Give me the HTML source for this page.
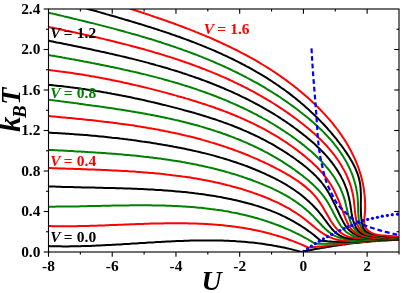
<!DOCTYPE html>
<html><head><meta charset="utf-8"><title>Phase diagram</title>
<style>
html,body{margin:0;padding:0;background:#fff;}
body{width:403px;height:293px;overflow:hidden;}
svg{display:block;will-change:transform;font-family:"Liberation Serif",serif;font-weight:bold;}
.c path{fill:none;stroke-width:2.0;stroke-linejoin:round;stroke-linecap:butt;}
.ax line{stroke:#000;stroke-width:1.1;}
.tk text{font-size:15.4px;fill:#000;}
.vl{font-size:15.5px;word-spacing:-0.7px;}
.vl tspan.i{font-style:italic;}
.big{font-size:28px;font-style:italic;}
</style></head><body>
<svg width="403" height="293" viewBox="0 0 403 293">
<defs><clipPath id="cp"><rect x="48.50" y="9.00" width="350.50" height="243.00"/></clipPath></defs>
<rect x="0" y="0" width="403" height="293" fill="#fff"/>
<g class="c" clip-path="url(#cp)">
<path d="M48.7 246.1 L50.6 246.2 L52.6 246.2 L54.6 246.3 L56.6 246.3 L58.6 246.3 L60.6 246.3 L62.6 246.4 L64.6 246.4 L66.6 246.4 L68.6 246.4 L70.5 246.3 L72.5 246.3 L74.5 246.3 L76.5 246.3 L78.5 246.2 L80.5 246.2 L82.5 246.1 L84.5 246.1 L86.5 246.0 L88.5 245.9 L90.5 245.9 L92.5 245.8 L94.5 245.7 L96.5 245.6 L98.5 245.5 L100.5 245.4 L102.5 245.3 L104.5 245.2 L106.5 245.1 L108.5 245.0 L110.5 244.9 L112.5 244.8 L114.5 244.7 L116.5 244.6 L118.5 244.5 L120.5 244.4 L122.5 244.2 L124.5 244.1 L126.5 244.0 L128.5 243.9 L130.5 243.7 L132.5 243.6 L134.5 243.5 L136.5 243.4 L138.5 243.2 L140.5 243.1 L142.5 243.0 L144.5 242.9 L146.5 242.7 L148.5 242.6 L150.5 242.5 L152.6 242.4 L154.6 242.3 L156.6 242.1 L158.6 242.0 L160.6 241.9 L162.6 241.8 L164.6 241.7 L166.6 241.6 L168.6 241.5 L170.6 241.4 L172.6 241.3 L174.6 241.2 L176.6 241.1 L178.6 241.0 L180.6 241.0 L182.6 240.9 L184.6 240.8 L186.6 240.8 L188.6 240.7 L190.6 240.6 L192.6 240.6 L194.6 240.5 L196.6 240.5 L198.6 240.5 L200.6 240.5 L202.6 240.4 L204.6 240.4 L206.5 240.4 L208.5 240.4 L210.5 240.4 L212.5 240.4 L214.5 240.5 L216.5 240.5 L218.5 240.5 L220.5 240.6 L222.5 240.6 L224.5 240.7 L226.5 240.8 L228.5 240.8 L230.5 240.9 L232.4 241.0 L234.4 241.1 L236.4 241.3 L238.4 241.4 L240.4 241.5 L242.4 241.7 L244.4 241.8 L246.3 242.0 L248.3 242.2 L250.3 242.4 L252.3 242.6 L254.3 242.8 L256.2 243.0 L258.2 243.3 L260.2 243.5 L262.2 243.8 L264.1 244.1 L266.1 244.4 L268.1 244.7 L270.1 245.0 L272.0 245.3 L274.0 245.7 L276.0 246.0 L277.9 246.4 L279.9 246.8 L281.9 247.2 L283.8 247.6 L285.8 248.0 L287.8 248.4 L289.7 248.9 L291.7 249.4 L293.7 249.9 L295.6 250.4 L297.6 250.9 L299.5 251.4 L301.5 252.0 L303.4 252.6 L303.6 252.6 M303.5 251.4 L305.5 251.0 L307.4 250.7 L309.4 250.3 L311.4 249.9 L313.3 249.5 L315.3 249.1 L317.3 248.8 L319.2 248.4 L321.2 248.1 L323.2 247.7 L325.1 247.4 L327.1 247.1 L329.1 246.7 L331.0 246.4 L333.0 246.1 L335.0 245.8 L337.0 245.5 L339.0 245.2 L340.9 244.9 L342.9 244.6 L344.9 244.4 L346.9 244.1 L348.9 243.8 L350.8 243.6 L352.8 243.3 L354.8 243.1 L356.8 242.9 L358.8 242.7 L360.8 242.4 L362.8 242.2 L364.8 242.0 L366.8 241.9 L368.7 241.7 L370.7 241.5 L372.7 241.3 L374.7 241.2 L376.7 241.0 L378.7 240.9 L380.7 240.7 L382.7 240.6 L384.7 240.5 L386.7 240.4 L388.7 240.3 L390.7 240.2 L392.7 240.1 L394.7 240.0 L396.7 240.0 L398.7 239.9 L400.7 239.9 L402.7 239.8 L404.7 239.8 L406.7 239.8 L408.7 239.8 L410.7 239.8 L412.0 239.8" stroke="#000000"/>
<path d="M48.7 226.1 L50.7 226.1 L52.7 226.2 L54.6 226.2 L56.6 226.2 L58.6 226.2 L60.6 226.3 L62.6 226.3 L64.5 226.3 L66.5 226.3 L68.5 226.3 L70.5 226.2 L72.5 226.2 L74.5 226.2 L76.5 226.2 L78.5 226.1 L80.4 226.1 L82.4 226.0 L84.4 226.0 L86.4 226.0 L88.4 225.9 L90.4 225.8 L92.4 225.8 L94.4 225.7 L96.4 225.7 L98.4 225.6 L100.4 225.5 L102.4 225.4 L104.4 225.4 L106.5 225.3 L108.5 225.2 L110.5 225.1 L112.5 225.1 L114.5 225.0 L116.5 224.9 L118.5 224.8 L120.5 224.7 L122.5 224.7 L124.5 224.6 L126.5 224.5 L128.5 224.4 L130.6 224.3 L132.6 224.3 L134.6 224.2 L136.6 224.1 L138.6 224.0 L140.6 224.0 L142.6 223.9 L144.6 223.8 L146.6 223.8 L148.6 223.7 L150.7 223.6 L152.7 223.6 L154.7 223.5 L156.7 223.5 L158.7 223.4 L160.7 223.4 L162.7 223.4 L164.7 223.3 L166.7 223.3 L168.7 223.3 L170.7 223.3 L172.7 223.2 L174.7 223.2 L176.8 223.2 L178.8 223.2 L180.8 223.3 L182.8 223.3 L184.8 223.3 L186.8 223.3 L188.8 223.4 L190.8 223.4 L192.8 223.5 L194.8 223.5 L196.7 223.6 L198.7 223.7 L200.7 223.7 L202.7 223.8 L204.7 223.9 L206.7 224.0 L208.7 224.2 L210.7 224.3 L212.7 224.4 L214.6 224.6 L216.6 224.7 L218.6 224.9 L220.6 225.1 L222.6 225.3 L224.5 225.5 L226.5 225.7 L228.5 225.9 L230.5 226.1 L232.4 226.4 L234.4 226.6 L236.4 226.9 L238.3 227.2 L240.3 227.5 L242.2 227.8 L244.2 228.1 L246.2 228.4 L248.1 228.8 L250.1 229.1 L252.0 229.5 L254.0 229.9 L255.9 230.3 L257.8 230.7 L259.8 231.1 L261.7 231.6 L263.7 232.0 L265.6 232.5 L267.5 233.0 L269.5 233.5 L271.4 234.0 L273.3 234.6 L275.2 235.1 L277.1 235.7 L279.1 236.3 L281.0 236.9 L282.9 237.5 L284.8 238.1 L286.7 238.8 L288.6 239.5 L290.5 240.2 L292.4 240.9 L294.3 241.6 L296.2 242.3 L298.0 243.1 L299.9 243.9 L301.8 244.7 L303.7 245.5 L305.6 246.3 L307.4 247.2 L309.1 248.0 M309.0 247.6 L311.0 247.4 L313.0 247.2 L315.0 247.0 L317.0 246.8 L318.9 246.6 L320.9 246.4 L322.9 246.2 L324.9 246.0 L326.9 245.7 L328.9 245.5 L330.9 245.3 L332.9 245.1 L334.9 244.8 L336.8 244.6 L338.8 244.4 L340.8 244.2 L342.8 243.9 L344.8 243.7 L346.8 243.5 L348.8 243.3 L350.8 243.1 L352.7 242.9 L354.7 242.6 L356.7 242.4 L358.7 242.2 L360.7 242.0 L362.7 241.9 L364.7 241.7 L366.7 241.5 L368.7 241.3 L370.7 241.1 L372.7 241.0 L374.6 240.8 L376.6 240.7 L378.6 240.5 L380.6 240.4 L382.6 240.3 L384.6 240.2 L386.6 240.1 L388.6 240.0 L390.6 239.9 L392.6 239.8 L394.6 239.8 L396.6 239.7 L398.6 239.7 L400.6 239.7 L402.6 239.7 L404.6 239.7 L406.6 239.7 L408.6 239.7 L410.6 239.8 L412.0 239.8" stroke="#ff0000"/>
<path d="M48.8 206.7 L50.7 206.7 L52.7 206.7 L54.7 206.7 L56.6 206.6 L58.6 206.6 L60.6 206.6 L62.5 206.6 L64.5 206.6 L66.5 206.6 L68.5 206.5 L70.5 206.5 L72.4 206.5 L74.4 206.4 L76.4 206.4 L78.4 206.4 L80.4 206.3 L82.4 206.3 L84.4 206.2 L86.4 206.2 L88.4 206.1 L90.4 206.1 L92.4 206.1 L94.4 206.0 L96.4 206.0 L98.4 205.9 L100.4 205.9 L102.4 205.8 L104.4 205.8 L106.4 205.7 L108.4 205.7 L110.4 205.7 L112.4 205.6 L114.4 205.6 L116.5 205.5 L118.5 205.5 L120.5 205.5 L122.5 205.4 L124.5 205.4 L126.5 205.4 L128.5 205.4 L130.5 205.3 L132.6 205.3 L134.6 205.3 L136.6 205.3 L138.6 205.3 L140.6 205.3 L142.6 205.3 L144.6 205.3 L146.7 205.3 L148.7 205.3 L150.7 205.3 L152.7 205.4 L154.7 205.4 L156.7 205.4 L158.7 205.5 L160.7 205.5 L162.7 205.6 L164.8 205.6 L166.8 205.7 L168.8 205.7 L170.8 205.8 L172.8 205.9 L174.8 206.0 L176.8 206.1 L178.8 206.2 L180.8 206.3 L182.8 206.4 L184.8 206.5 L186.8 206.7 L188.8 206.8 L190.8 207.0 L192.8 207.1 L194.7 207.3 L196.7 207.5 L198.7 207.7 L200.7 207.8 L202.7 208.0 L204.7 208.3 L206.6 208.5 L208.6 208.7 L210.6 209.0 L212.6 209.2 L214.5 209.5 L216.5 209.8 L218.5 210.0 L220.4 210.3 L222.4 210.6 L224.4 211.0 L226.3 211.3 L228.3 211.6 L230.2 212.0 L232.2 212.4 L234.1 212.7 L236.1 213.1 L238.0 213.5 L239.9 214.0 L241.9 214.4 L243.8 214.8 L245.7 215.3 L247.7 215.8 L249.6 216.2 L251.5 216.7 L253.4 217.2 L255.3 217.8 L257.2 218.3 L259.1 218.9 L261.0 219.4 L262.9 220.0 L264.8 220.6 L266.7 221.2 L268.6 221.9 L270.5 222.5 L272.4 223.2 L274.3 223.9 L276.1 224.6 L278.0 225.3 L279.9 226.0 L281.7 226.7 L283.6 227.5 L285.4 228.3 L287.3 229.1 L289.1 229.9 L290.9 230.7 L292.8 231.6 L294.6 232.4 L296.4 233.3 L298.3 234.2 L300.1 235.2 L301.9 236.1 L303.7 237.1 L305.5 238.0 L307.3 239.0 L309.1 240.1 L310.9 241.1 L312.6 242.2 L314.4 243.2 L315.2 243.7 M315.0 243.7 L317.0 243.7 L319.0 243.7 L321.0 243.7 L323.0 243.7 L325.0 243.7 L327.0 243.7 L329.0 243.6 L331.0 243.5 L333.0 243.5 L335.0 243.4 L337.0 243.3 L339.0 243.2 L341.0 243.1 L343.0 242.9 L345.0 242.8 L347.0 242.6 L348.9 242.5 L350.9 242.4 L352.9 242.2 L354.9 242.0 L356.9 241.9 L358.9 241.7 L360.9 241.6 L362.9 241.4 L364.9 241.2 L366.9 241.1 L368.9 240.9 L370.9 240.8 L372.9 240.6 L374.9 240.5 L376.9 240.3 L378.9 240.2 L380.9 240.1 L382.8 240.0 L384.8 239.9 L386.8 239.8 L388.8 239.7 L390.8 239.6 L392.8 239.6 L394.8 239.5 L396.8 239.5 L398.8 239.5 L400.8 239.5 L402.8 239.5 L404.8 239.5 L406.9 239.6 L408.9 239.7 L410.9 239.8 L412.0 239.8" stroke="#008000"/>
<path d="M49.0 186.4 L50.9 186.5 L52.8 186.5 L54.8 186.6 L56.7 186.7 L58.7 186.7 L60.6 186.8 L62.5 186.9 L64.5 186.9 L66.4 187.0 L68.4 187.0 L70.4 187.1 L72.3 187.1 L74.3 187.2 L76.3 187.2 L78.2 187.3 L80.2 187.3 L82.2 187.4 L84.2 187.4 L86.2 187.5 L88.2 187.5 L90.1 187.5 L92.1 187.6 L94.1 187.6 L96.1 187.7 L98.1 187.7 L100.1 187.8 L102.1 187.8 L104.1 187.9 L106.1 187.9 L108.1 188.0 L110.2 188.0 L112.2 188.1 L114.2 188.1 L116.2 188.2 L118.2 188.2 L120.2 188.3 L122.2 188.3 L124.3 188.4 L126.3 188.5 L128.3 188.5 L130.3 188.6 L132.3 188.7 L134.4 188.8 L136.4 188.8 L138.4 188.9 L140.4 189.0 L142.5 189.1 L144.5 189.2 L146.5 189.3 L148.5 189.4 L150.5 189.5 L152.6 189.6 L154.6 189.7 L156.6 189.9 L158.6 190.0 L160.7 190.1 L162.7 190.2 L164.7 190.4 L166.7 190.5 L168.7 190.7 L170.7 190.8 L172.8 191.0 L174.8 191.2 L176.8 191.4 L178.8 191.5 L180.8 191.7 L182.8 191.9 L184.8 192.1 L186.8 192.3 L188.8 192.6 L190.8 192.8 L192.8 193.0 L194.8 193.3 L196.8 193.5 L198.8 193.8 L200.8 194.0 L202.8 194.3 L204.8 194.6 L206.8 194.9 L208.7 195.2 L210.7 195.5 L212.7 195.8 L214.7 196.1 L216.6 196.4 L218.6 196.8 L220.6 197.1 L222.5 197.5 L224.5 197.9 L226.4 198.3 L228.4 198.7 L230.3 199.1 L232.3 199.5 L234.2 199.9 L236.1 200.3 L238.1 200.8 L240.0 201.2 L241.9 201.7 L243.8 202.2 L245.8 202.7 L247.7 203.2 L249.6 203.7 L251.5 204.2 L253.4 204.8 L255.2 205.4 L257.1 205.9 L259.0 206.5 L260.9 207.1 L262.7 207.8 L264.6 208.4 L266.4 209.1 L268.3 209.8 L270.1 210.4 L272.0 211.2 L273.8 211.9 L275.6 212.6 L277.4 213.4 L279.2 214.2 L281.0 215.0 L282.8 215.9 L284.6 216.7 L286.4 217.6 L288.1 218.5 L289.9 219.4 L291.6 220.3 L293.4 221.3 L295.1 222.3 L296.8 223.3 L298.5 224.3 L300.2 225.4 L301.9 226.5 L303.6 227.6 L305.3 228.7 L307.0 229.9 L308.6 231.1 L310.3 232.3 L311.9 233.5 L313.6 234.8 L315.2 236.1 L316.8 237.4 L318.4 238.8 L320.0 240.2 L320.0 240.3 M319.5 240.4 L321.5 240.7 L323.5 240.9 L325.5 241.1 L327.5 241.3 L329.5 241.4 L331.5 241.6 L333.5 241.7 L335.5 241.7 L337.5 241.8 L339.4 241.8 L341.4 241.8 L343.4 241.8 L345.4 241.8 L347.4 241.7 L349.4 241.7 L351.4 241.6 L353.4 241.5 L355.4 241.4 L357.4 241.3 L359.4 241.2 L361.4 241.1 L363.4 240.9 L365.4 240.8 L367.4 240.7 L369.4 240.6 L371.4 240.4 L373.4 240.3 L375.4 240.2 L377.4 240.0 L379.4 239.9 L381.4 239.8 L383.4 239.7 L385.4 239.6 L387.4 239.5 L389.4 239.4 L391.4 239.4 L393.4 239.3 L395.4 239.3 L397.4 239.3 L399.4 239.3 L401.4 239.3 L403.4 239.4 L405.4 239.4 L407.4 239.5 L409.4 239.6 L411.4 239.8 L412.0 239.8" stroke="#000000"/>
<path d="M49.0 168.1 L50.9 168.1 L52.8 168.2 L54.8 168.3 L56.7 168.3 L58.7 168.4 L60.6 168.5 L62.6 168.5 L64.6 168.6 L66.5 168.7 L68.5 168.7 L70.5 168.8 L72.4 168.8 L74.4 168.9 L76.4 169.0 L78.4 169.0 L80.3 169.1 L82.3 169.2 L84.3 169.2 L86.3 169.3 L88.3 169.4 L90.3 169.5 L92.3 169.5 L94.3 169.6 L96.3 169.7 L98.3 169.8 L100.3 169.8 L102.3 169.9 L104.3 170.0 L106.3 170.1 L108.3 170.2 L110.3 170.3 L112.3 170.4 L114.3 170.5 L116.3 170.6 L118.3 170.7 L120.3 170.8 L122.3 170.9 L124.4 171.0 L126.4 171.1 L128.4 171.2 L130.4 171.4 L132.4 171.5 L134.4 171.6 L136.4 171.8 L138.5 171.9 L140.5 172.1 L142.5 172.2 L144.5 172.4 L146.5 172.5 L148.5 172.7 L150.5 172.9 L152.5 173.0 L154.5 173.2 L156.6 173.4 L158.6 173.6 L160.6 173.8 L162.6 174.0 L164.6 174.2 L166.6 174.5 L168.6 174.7 L170.6 174.9 L172.6 175.2 L174.6 175.4 L176.6 175.7 L178.6 175.9 L180.6 176.2 L182.6 176.5 L184.6 176.7 L186.5 177.0 L188.5 177.3 L190.5 177.6 L192.5 178.0 L194.5 178.3 L196.4 178.6 L198.4 178.9 L200.4 179.3 L202.4 179.7 L204.3 180.0 L206.3 180.4 L208.2 180.8 L210.2 181.2 L212.1 181.6 L214.1 182.0 L216.0 182.4 L218.0 182.8 L219.9 183.3 L221.9 183.7 L223.8 184.2 L225.7 184.7 L227.6 185.2 L229.6 185.6 L231.5 186.2 L233.4 186.7 L235.3 187.2 L237.2 187.7 L239.1 188.3 L241.0 188.8 L242.9 189.4 L244.8 190.0 L246.6 190.6 L248.5 191.2 L250.4 191.8 L252.3 192.4 L254.1 193.1 L256.0 193.7 L257.8 194.4 L259.7 195.1 L261.5 195.8 L263.4 196.5 L265.2 197.2 L267.0 198.0 L268.8 198.7 L270.6 199.5 L272.4 200.3 L274.2 201.1 L276.0 201.9 L277.8 202.7 L279.6 203.6 L281.4 204.5 L283.1 205.4 L284.9 206.3 L286.6 207.3 L288.4 208.2 L290.1 209.2 L291.8 210.3 L293.5 211.3 L295.2 212.4 L296.9 213.5 L298.6 214.7 L300.3 215.8 L301.9 217.0 L303.6 218.3 L305.2 219.5 L306.8 220.8 L308.5 222.2 L310.1 223.5 L311.7 224.8 L313.3 226.1 L314.9 227.5 L316.5 228.7 L318.2 230.0 L319.8 231.2 L321.4 232.4 L323.1 233.5 L324.7 234.6 L326.4 235.5 L328.1 236.4 L329.8 237.2 L331.6 237.9 L333.3 238.6 L335.1 239.1 L336.9 239.6 L338.7 240.0 L340.6 240.3 L342.5 240.6 L344.4 240.8 L346.3 240.9 L348.2 241.0 L350.2 241.0 L352.1 241.0 L354.1 241.0 L356.1 240.9 L358.1 240.8 L360.1 240.7 L362.2 240.6 L364.2 240.4 L366.2 240.3 L368.3 240.1 L370.3 239.9 L372.4 239.7 L374.5 239.6 L376.5 239.4 L378.6 239.3 L380.6 239.2 L382.7 239.1 L384.7 239.1 L386.8 239.1 L388.8 239.1 L390.8 239.1 L392.8 239.2 L394.9 239.3 L396.9 239.4 L398.8 239.5 L400.8 239.6 L402.8 239.6 L404.7 239.7 L406.6 239.8 L408.5 239.8 L410.4 239.8 L411.9 239.8" stroke="#ff0000"/>
<path d="M48.9 149.9 L50.8 150.0 L52.8 150.1 L54.8 150.2 L56.7 150.3 L58.7 150.4 L60.6 150.5 L62.6 150.6 L64.6 150.7 L66.5 150.8 L68.5 150.9 L70.5 151.0 L72.4 151.1 L74.4 151.3 L76.4 151.4 L78.4 151.5 L80.4 151.6 L82.4 151.7 L84.3 151.8 L86.3 151.9 L88.3 152.1 L90.3 152.2 L92.3 152.3 L94.3 152.4 L96.3 152.6 L98.3 152.7 L100.3 152.8 L102.3 153.0 L104.3 153.1 L106.3 153.2 L108.3 153.4 L110.3 153.5 L112.3 153.7 L114.3 153.8 L116.3 154.0 L118.3 154.2 L120.3 154.3 L122.3 154.5 L124.3 154.7 L126.3 154.9 L128.3 155.0 L130.3 155.2 L132.3 155.4 L134.3 155.6 L136.3 155.8 L138.3 156.0 L140.3 156.2 L142.3 156.4 L144.3 156.7 L146.3 156.9 L148.3 157.1 L150.3 157.4 L152.3 157.6 L154.3 157.9 L156.3 158.1 L158.3 158.4 L160.3 158.6 L162.3 158.9 L164.3 159.2 L166.3 159.5 L168.3 159.8 L170.3 160.1 L172.3 160.4 L174.3 160.7 L176.2 161.0 L178.2 161.3 L180.2 161.6 L182.2 162.0 L184.2 162.3 L186.1 162.7 L188.1 163.1 L190.1 163.4 L192.0 163.8 L194.0 164.2 L196.0 164.6 L197.9 165.0 L199.9 165.4 L201.9 165.8 L203.8 166.2 L205.8 166.7 L207.7 167.1 L209.6 167.6 L211.6 168.0 L213.5 168.5 L215.5 169.0 L217.4 169.5 L219.3 170.0 L221.2 170.5 L223.2 171.0 L225.1 171.5 L227.0 172.1 L228.9 172.6 L230.8 173.2 L232.7 173.7 L234.6 174.3 L236.5 174.9 L238.4 175.5 L240.3 176.1 L242.2 176.7 L244.1 177.4 L245.9 178.0 L247.8 178.7 L249.7 179.3 L251.5 180.0 L253.4 180.7 L255.2 181.4 L257.1 182.1 L258.9 182.8 L260.8 183.6 L262.6 184.3 L264.4 185.1 L266.2 185.8 L268.1 186.6 L269.9 187.4 L271.7 188.2 L273.5 189.1 L275.2 189.9 L277.0 190.8 L278.8 191.7 L280.6 192.6 L282.3 193.5 L284.0 194.5 L285.8 195.4 L287.5 196.4 L289.2 197.4 L290.9 198.5 L292.6 199.6 L294.2 200.6 L295.9 201.8 L297.5 202.9 L299.2 204.1 L300.8 205.3 L302.4 206.5 L303.9 207.8 L305.5 209.1 L307.0 210.5 L308.6 211.8 L310.1 213.2 L311.6 214.7 L313.1 216.1 L314.5 217.6 L316.0 219.2 L317.4 220.7 L318.8 222.2 L320.3 223.8 L321.7 225.3 L323.1 226.7 L324.6 228.2 L326.1 229.5 L327.6 230.9 L329.1 232.1 L330.7 233.3 L332.3 234.3 L333.9 235.3 L335.5 236.1 L337.3 236.9 L339.0 237.5 L340.8 238.1 L342.6 238.5 L344.4 238.9 L346.3 239.3 L348.2 239.5 L350.1 239.7 L352.1 239.9 L354.0 240.0 L356.0 240.0 L358.0 240.0 L360.0 240.0 L362.1 240.0 L364.1 239.9 L366.2 239.8 L368.2 239.7 L370.3 239.7 L372.4 239.6 L374.5 239.5 L376.5 239.4 L378.6 239.3 L380.7 239.3 L382.7 239.2 L384.8 239.1 L386.9 239.1 L388.9 239.1 L390.9 239.0 L393.0 239.0 L395.0 239.0 L397.0 239.0 L398.9 239.1 L400.9 239.1 L402.8 239.2 L404.8 239.2 L406.7 239.3 L408.5 239.4 L410.4 239.5 L411.8 239.7" stroke="#008000"/>
<path d="M48.8 132.6 L50.8 132.7 L52.8 132.9 L54.7 133.0 L56.7 133.1 L58.6 133.2 L60.6 133.3 L62.6 133.4 L64.5 133.5 L66.5 133.7 L68.5 133.8 L70.5 133.9 L72.4 134.1 L74.4 134.2 L76.4 134.4 L78.4 134.5 L80.4 134.7 L82.3 134.8 L84.3 135.0 L86.3 135.1 L88.3 135.3 L90.3 135.5 L92.3 135.7 L94.3 135.8 L96.3 136.0 L98.3 136.2 L100.3 136.4 L102.2 136.6 L104.2 136.8 L106.2 137.0 L108.2 137.2 L110.2 137.4 L112.2 137.7 L114.2 137.9 L116.2 138.1 L118.2 138.3 L120.2 138.6 L122.2 138.8 L124.2 139.1 L126.2 139.3 L128.2 139.6 L130.2 139.8 L132.2 140.1 L134.2 140.3 L136.2 140.6 L138.2 140.9 L140.2 141.2 L142.1 141.5 L144.1 141.7 L146.1 142.0 L148.1 142.3 L150.1 142.6 L152.1 142.9 L154.1 143.3 L156.1 143.6 L158.1 143.9 L160.0 144.2 L162.0 144.6 L164.0 144.9 L166.0 145.2 L168.0 145.6 L169.9 145.9 L171.9 146.3 L173.9 146.7 L175.9 147.0 L177.8 147.4 L179.8 147.8 L181.8 148.2 L183.7 148.6 L185.7 149.0 L187.6 149.4 L189.6 149.8 L191.6 150.2 L193.5 150.7 L195.5 151.1 L197.4 151.6 L199.4 152.0 L201.3 152.5 L203.2 152.9 L205.2 153.4 L207.1 153.9 L209.0 154.4 L211.0 154.9 L212.9 155.4 L214.8 155.9 L216.7 156.5 L218.6 157.0 L220.6 157.6 L222.5 158.1 L224.4 158.7 L226.3 159.3 L228.2 159.9 L230.1 160.5 L232.0 161.1 L233.8 161.7 L235.7 162.3 L237.6 163.0 L239.5 163.6 L241.4 164.3 L243.2 164.9 L245.1 165.6 L247.0 166.3 L248.8 167.0 L250.7 167.7 L252.5 168.5 L254.3 169.2 L256.2 170.0 L258.0 170.7 L259.8 171.5 L261.7 172.3 L263.5 173.1 L265.3 173.9 L267.1 174.8 L268.9 175.6 L270.7 176.5 L272.5 177.3 L274.3 178.2 L276.0 179.1 L277.8 180.0 L279.6 181.0 L281.3 181.9 L283.0 182.9 L284.8 183.9 L286.5 184.9 L288.2 186.0 L289.8 187.0 L291.5 188.1 L293.2 189.2 L294.8 190.3 L296.4 191.5 L298.1 192.6 L299.7 193.8 L301.2 195.0 L302.8 196.3 L304.3 197.6 L305.9 198.9 L307.4 200.2 L308.9 201.5 L310.3 202.9 L311.8 204.3 L313.2 205.7 L314.6 207.2 L316.0 208.7 L317.4 210.2 L318.7 211.8 L320.0 213.4 L321.3 215.0 L322.6 216.6 L323.8 218.3 L325.1 220.0 L326.3 221.7 L327.6 223.4 L328.8 225.0 L330.1 226.7 L331.3 228.2 L332.7 229.7 L334.0 231.1 L335.4 232.5 L336.9 233.7 L338.4 234.7 L339.9 235.6 L341.6 236.4 L343.3 237.1 L345.0 237.6 L346.8 238.1 L348.6 238.5 L350.5 238.7 L352.4 238.9 L354.4 239.1 L356.3 239.2 L358.3 239.2 L360.3 239.2 L362.4 239.2 L364.4 239.1 L366.5 239.1 L368.5 239.0 L370.6 239.0 L372.7 239.0 L374.8 239.0 L376.8 239.0 L378.9 239.0 L380.9 239.1 L383.0 239.1 L385.1 239.1 L387.1 239.2 L389.1 239.3 L391.1 239.3 L393.2 239.4 L395.2 239.4 L397.1 239.4 L399.1 239.5 L401.1 239.5 L403.0 239.5 L404.9 239.5 L406.8 239.5 L408.7 239.5 L410.6 239.4 L411.8 239.4" stroke="#000000"/>
<path d="M48.7 116.1 L50.7 116.3 L52.6 116.5 L54.6 116.6 L56.6 116.8 L58.6 117.0 L60.6 117.2 L62.5 117.4 L64.5 117.5 L66.5 117.7 L68.5 117.9 L70.5 118.1 L72.5 118.3 L74.5 118.5 L76.5 118.7 L78.4 118.9 L80.4 119.1 L82.4 119.3 L84.4 119.5 L86.4 119.7 L88.4 119.9 L90.4 120.1 L92.4 120.3 L94.4 120.5 L96.3 120.7 L98.3 121.0 L100.3 121.2 L102.3 121.4 L104.3 121.7 L106.3 121.9 L108.3 122.1 L110.3 122.4 L112.3 122.6 L114.2 122.9 L116.2 123.1 L118.2 123.4 L120.2 123.7 L122.2 123.9 L124.2 124.2 L126.2 124.5 L128.1 124.8 L130.1 125.1 L132.1 125.3 L134.1 125.6 L136.1 125.9 L138.0 126.3 L140.0 126.6 L142.0 126.9 L144.0 127.2 L145.9 127.5 L147.9 127.9 L149.9 128.2 L151.9 128.6 L153.8 128.9 L155.8 129.3 L157.8 129.6 L159.7 130.0 L161.7 130.4 L163.7 130.8 L165.6 131.2 L167.6 131.5 L169.5 131.9 L171.5 132.4 L173.5 132.8 L175.4 133.2 L177.4 133.6 L179.3 134.1 L181.3 134.5 L183.2 135.0 L185.2 135.4 L187.1 135.9 L189.0 136.3 L191.0 136.8 L192.9 137.3 L194.8 137.8 L196.8 138.3 L198.7 138.8 L200.6 139.3 L202.5 139.9 L204.5 140.4 L206.4 141.0 L208.3 141.5 L210.2 142.1 L212.1 142.6 L214.0 143.2 L215.9 143.8 L217.8 144.4 L219.7 145.0 L221.6 145.6 L223.5 146.2 L225.4 146.9 L227.3 147.5 L229.2 148.2 L231.1 148.8 L233.0 149.5 L234.8 150.2 L236.7 150.9 L238.6 151.6 L240.4 152.3 L242.3 153.0 L244.2 153.7 L246.0 154.5 L247.9 155.2 L249.7 156.0 L251.6 156.8 L253.4 157.6 L255.2 158.4 L257.1 159.2 L258.9 160.0 L260.7 160.8 L262.6 161.6 L264.4 162.5 L266.2 163.4 L268.0 164.2 L269.8 165.1 L271.6 166.0 L273.4 166.9 L275.2 167.8 L277.0 168.8 L278.8 169.7 L280.6 170.7 L282.3 171.6 L284.1 172.6 L285.9 173.6 L287.6 174.6 L289.4 175.7 L291.1 176.7 L292.8 177.8 L294.5 178.9 L296.2 180.0 L297.9 181.1 L299.5 182.3 L301.1 183.4 L302.7 184.6 L304.3 185.9 L305.8 187.1 L307.3 188.4 L308.8 189.8 L310.2 191.1 L311.7 192.5 L313.0 193.9 L314.4 195.4 L315.7 196.9 L316.9 198.4 L318.1 200.0 L319.3 201.6 L320.4 203.3 L321.5 205.0 L322.6 206.7 L323.6 208.4 L324.6 210.2 L325.6 211.9 L326.7 213.7 L327.7 215.5 L328.7 217.3 L329.7 219.0 L330.8 220.8 L331.9 222.5 L333.1 224.2 L334.2 225.8 L335.5 227.4 L336.8 228.9 L338.1 230.3 L339.5 231.7 L341.0 232.9 L342.5 233.9 L344.2 234.9 L345.9 235.7 L347.6 236.4 L349.5 237.0 L351.4 237.4 L353.3 237.8 L355.3 238.1 L357.3 238.3 L359.4 238.4 L361.5 238.5 L363.5 238.6 L365.6 238.6 L367.7 238.7 L369.8 238.7 L371.8 238.7 L373.9 238.7 L375.9 238.7 L377.9 238.7 L379.9 238.7 L381.9 238.7 L383.8 238.8 L385.8 238.8 L387.8 238.8 L389.7 238.9 L391.7 238.9 L393.7 238.9 L395.6 239.0 L397.6 239.0 L399.6 239.1 L401.5 239.1 L403.5 239.2 L405.5 239.2 L407.5 239.3 L409.6 239.4 L411.6 239.4 L412.0 239.4" stroke="#ff0000"/>
<path d="M49.1 99.7 L51.0 100.0 L52.9 100.2 L54.9 100.5 L56.8 100.7 L58.7 101.0 L60.7 101.3 L62.6 101.5 L64.5 101.8 L66.5 102.0 L68.4 102.3 L70.4 102.6 L72.3 102.8 L74.3 103.1 L76.3 103.3 L78.2 103.6 L80.2 103.9 L82.1 104.1 L84.1 104.4 L86.1 104.7 L88.0 104.9 L90.0 105.2 L92.0 105.5 L94.0 105.7 L95.9 106.0 L97.9 106.3 L99.9 106.6 L101.9 106.8 L103.8 107.1 L105.8 107.4 L107.8 107.7 L109.8 108.0 L111.8 108.3 L113.8 108.6 L115.8 108.9 L117.7 109.2 L119.7 109.5 L121.7 109.8 L123.7 110.1 L125.7 110.4 L127.7 110.7 L129.7 111.1 L131.6 111.4 L133.6 111.7 L135.6 112.1 L137.6 112.4 L139.6 112.7 L141.6 113.1 L143.6 113.4 L145.5 113.8 L147.5 114.2 L149.5 114.5 L151.5 114.9 L153.5 115.3 L155.4 115.7 L157.4 116.1 L159.4 116.5 L161.4 116.9 L163.3 117.3 L165.3 117.7 L167.3 118.1 L169.2 118.6 L171.2 119.0 L173.2 119.4 L175.1 119.9 L177.1 120.3 L179.1 120.8 L181.0 121.3 L183.0 121.7 L184.9 122.2 L186.9 122.7 L188.8 123.2 L190.8 123.7 L192.7 124.2 L194.6 124.8 L196.6 125.3 L198.5 125.8 L200.4 126.4 L202.3 126.9 L204.3 127.5 L206.2 128.1 L208.1 128.7 L210.0 129.3 L211.9 129.9 L213.8 130.5 L215.7 131.1 L217.6 131.7 L219.5 132.3 L221.4 133.0 L223.3 133.7 L225.2 134.3 L227.0 135.0 L228.9 135.7 L230.8 136.4 L232.6 137.1 L234.5 137.8 L236.3 138.6 L238.2 139.3 L240.0 140.0 L241.9 140.8 L243.7 141.6 L245.5 142.4 L247.3 143.2 L249.1 144.0 L251.0 144.8 L252.8 145.6 L254.6 146.5 L256.4 147.3 L258.1 148.2 L259.9 149.1 L261.7 150.0 L263.5 150.9 L265.2 151.8 L267.0 152.7 L268.7 153.7 L270.5 154.6 L272.2 155.6 L273.9 156.6 L275.7 157.6 L277.4 158.6 L279.1 159.6 L280.8 160.7 L282.5 161.7 L284.2 162.8 L285.9 163.9 L287.5 165.0 L289.2 166.1 L290.9 167.2 L292.5 168.4 L294.2 169.5 L295.8 170.7 L297.4 171.9 L299.0 173.1 L300.6 174.3 L302.2 175.5 L303.8 176.8 L305.4 178.0 L307.0 179.3 L308.5 180.6 L310.0 181.9 L311.5 183.3 L312.9 184.6 L314.4 186.0 L315.8 187.4 L317.2 188.8 L318.5 190.2 L319.8 191.7 L321.1 193.2 L322.3 194.7 L323.5 196.2 L324.6 197.7 L325.8 199.3 L326.8 200.9 L327.8 202.5 L328.8 204.1 L329.7 205.8 L330.6 207.5 L331.6 209.2 L332.5 210.9 L333.4 212.7 L334.3 214.4 L335.2 216.3 L336.2 218.1 L337.3 220.0 L338.3 221.8 L339.5 223.7 L340.6 225.5 L341.9 227.2 L343.2 228.8 L344.6 230.3 L346.0 231.7 L347.6 232.9 L349.2 233.9 L350.9 234.8 L352.6 235.5 L354.4 236.2 L356.3 236.7 L358.2 237.1 L360.1 237.4 L362.1 237.7 L364.1 237.9 L366.1 238.0 L368.2 238.1 L370.3 238.3 L372.4 238.3 L374.5 238.4 L376.6 238.5 L378.7 238.6 L380.8 238.7 L382.9 238.7 L384.9 238.8 L387.0 238.8 L389.1 238.9 L391.1 238.9 L393.2 239.0 L395.2 239.0 L397.2 239.1 L399.1 239.1 L401.1 239.1 L403.0 239.1 L404.8 239.2 L406.7 239.2 L408.5 239.2 L410.2 239.2 L411.6 239.2" stroke="#008000"/>
<path d="M48.8 84.9 L50.8 85.1 L52.7 85.3 L54.7 85.5 L56.6 85.7 L58.6 85.9 L60.6 86.1 L62.5 86.3 L64.5 86.6 L66.5 86.8 L68.4 87.0 L70.4 87.3 L72.4 87.5 L74.3 87.8 L76.3 88.0 L78.3 88.3 L80.3 88.6 L82.2 88.9 L84.2 89.1 L86.2 89.4 L88.1 89.7 L90.1 90.0 L92.1 90.3 L94.1 90.6 L96.0 91.0 L98.0 91.3 L100.0 91.6 L102.0 91.9 L104.0 92.3 L105.9 92.6 L107.9 93.0 L109.9 93.3 L111.9 93.7 L113.8 94.0 L115.8 94.4 L117.8 94.8 L119.8 95.2 L121.7 95.6 L123.7 95.9 L125.7 96.3 L127.6 96.7 L129.6 97.1 L131.6 97.5 L133.6 98.0 L135.5 98.4 L137.5 98.8 L139.5 99.2 L141.4 99.6 L143.4 100.1 L145.4 100.5 L147.3 101.0 L149.3 101.4 L151.2 101.9 L153.2 102.3 L155.2 102.8 L157.1 103.2 L159.1 103.7 L161.0 104.2 L163.0 104.7 L164.9 105.1 L166.9 105.6 L168.8 106.1 L170.7 106.6 L172.7 107.1 L174.6 107.6 L176.6 108.1 L178.5 108.6 L180.4 109.1 L182.4 109.6 L184.3 110.2 L186.2 110.7 L188.1 111.2 L190.1 111.7 L192.0 112.3 L193.9 112.8 L195.8 113.4 L197.7 114.0 L199.6 114.5 L201.5 115.1 L203.4 115.7 L205.3 116.3 L207.2 116.9 L209.1 117.5 L211.0 118.1 L212.9 118.7 L214.8 119.3 L216.7 119.9 L218.5 120.6 L220.4 121.2 L222.3 121.9 L224.1 122.6 L226.0 123.2 L227.9 123.9 L229.7 124.6 L231.6 125.3 L233.4 126.0 L235.3 126.8 L237.1 127.5 L238.9 128.2 L240.8 129.0 L242.6 129.8 L244.4 130.6 L246.2 131.3 L248.1 132.1 L249.9 133.0 L251.7 133.8 L253.5 134.6 L255.3 135.5 L257.1 136.3 L258.9 137.2 L260.6 138.1 L262.4 139.0 L264.2 139.9 L266.0 140.9 L267.7 141.8 L269.5 142.8 L271.2 143.7 L273.0 144.7 L274.7 145.7 L276.5 146.8 L278.2 147.8 L279.9 148.8 L281.7 149.9 L283.4 151.0 L285.1 152.1 L286.8 153.2 L288.5 154.3 L290.2 155.5 L291.9 156.6 L293.6 157.8 L295.3 159.0 L296.9 160.2 L298.6 161.4 L300.3 162.7 L301.9 163.9 L303.6 165.2 L305.2 166.5 L306.8 167.8 L308.4 169.2 L309.9 170.5 L311.5 171.9 L313.0 173.3 L314.4 174.7 L315.9 176.1 L317.3 177.6 L318.6 179.0 L319.9 180.5 L321.2 182.0 L322.4 183.5 L323.6 185.1 L324.7 186.6 L325.8 188.2 L326.8 189.8 L327.8 191.4 L328.8 193.0 L329.7 194.7 L330.6 196.3 L331.5 198.0 L332.4 199.7 L333.2 201.4 L334.1 203.2 L335.0 204.9 L335.8 206.7 L336.6 208.5 L337.5 210.3 L338.4 212.2 L339.2 214.0 L340.1 215.9 L341.0 217.8 L342.0 219.6 L343.0 221.5 L344.0 223.3 L345.1 225.1 L346.2 226.8 L347.5 228.3 L348.8 229.8 L350.2 231.1 L351.7 232.3 L353.3 233.3 L355.0 234.2 L356.7 235.0 L358.5 235.7 L360.4 236.3 L362.3 236.8 L364.2 237.2 L366.2 237.5 L368.3 237.8 L370.3 238.0 L372.4 238.2 L374.4 238.3 L376.5 238.4 L378.6 238.4 L380.7 238.5 L382.8 238.5 L384.9 238.5 L387.0 238.5 L389.1 238.4 L391.1 238.4 L393.2 238.4 L395.2 238.4 L397.2 238.4 L399.2 238.4 L401.2 238.4 L403.1 238.5 L405.0 238.6 L406.8 238.7 L408.6 238.9 L410.4 239.1 L411.7 239.4" stroke="#000000"/>
<path d="M48.9 70.1 L50.8 70.3 L52.8 70.5 L54.7 70.7 L56.7 71.0 L58.6 71.2 L60.6 71.5 L62.5 71.7 L64.5 72.0 L66.4 72.3 L68.4 72.5 L70.3 72.8 L72.3 73.1 L74.3 73.4 L76.2 73.7 L78.2 74.0 L80.1 74.3 L82.1 74.6 L84.1 74.9 L86.0 75.3 L88.0 75.6 L90.0 75.9 L91.9 76.3 L93.9 76.6 L95.9 77.0 L97.8 77.3 L99.8 77.7 L101.8 78.1 L103.7 78.4 L105.7 78.8 L107.7 79.2 L109.7 79.6 L111.6 80.0 L113.6 80.4 L115.6 80.8 L117.5 81.2 L119.5 81.6 L121.5 82.0 L123.4 82.5 L125.4 82.9 L127.4 83.3 L129.3 83.8 L131.3 84.2 L133.3 84.7 L135.2 85.1 L137.2 85.6 L139.2 86.0 L141.1 86.5 L143.1 87.0 L145.0 87.4 L147.0 87.9 L148.9 88.4 L150.9 88.9 L152.8 89.4 L154.8 89.9 L156.8 90.4 L158.7 90.9 L160.6 91.4 L162.6 91.9 L164.5 92.4 L166.5 92.9 L168.4 93.5 L170.4 94.0 L172.3 94.5 L174.2 95.1 L176.2 95.6 L178.1 96.2 L180.0 96.7 L181.9 97.3 L183.9 97.8 L185.8 98.4 L187.7 98.9 L189.6 99.5 L191.5 100.1 L193.4 100.7 L195.3 101.3 L197.2 101.9 L199.1 102.5 L201.0 103.1 L202.9 103.7 L204.8 104.3 L206.7 104.9 L208.6 105.6 L210.5 106.2 L212.4 106.8 L214.2 107.5 L216.1 108.2 L218.0 108.8 L219.8 109.5 L221.7 110.2 L223.5 110.9 L225.4 111.6 L227.2 112.3 L229.1 113.0 L230.9 113.8 L232.8 114.5 L234.6 115.3 L236.4 116.0 L238.3 116.8 L240.1 117.6 L241.9 118.4 L243.7 119.2 L245.5 120.0 L247.3 120.8 L249.1 121.6 L250.9 122.5 L252.7 123.3 L254.5 124.2 L256.3 125.1 L258.0 126.0 L259.8 126.9 L261.6 127.8 L263.3 128.7 L265.1 129.7 L266.8 130.7 L268.6 131.6 L270.3 132.6 L272.0 133.6 L273.8 134.6 L275.5 135.6 L277.2 136.7 L278.9 137.7 L280.6 138.8 L282.3 139.9 L284.0 141.0 L285.7 142.1 L287.4 143.2 L289.0 144.4 L290.7 145.5 L292.4 146.7 L294.0 147.9 L295.7 149.1 L297.3 150.3 L298.9 151.6 L300.6 152.8 L302.2 154.1 L303.8 155.4 L305.4 156.7 L307.0 158.0 L308.5 159.4 L310.1 160.7 L311.6 162.1 L313.1 163.5 L314.6 164.9 L316.0 166.3 L317.5 167.8 L318.9 169.2 L320.2 170.7 L321.6 172.2 L322.9 173.7 L324.1 175.3 L325.4 176.8 L326.6 178.4 L327.7 180.0 L328.8 181.6 L329.9 183.2 L330.9 184.8 L331.9 186.5 L332.8 188.1 L333.7 189.8 L334.6 191.5 L335.4 193.3 L336.2 195.0 L337.0 196.8 L337.8 198.5 L338.6 200.3 L339.3 202.1 L340.0 204.0 L340.8 205.8 L341.5 207.7 L342.2 209.6 L342.9 211.5 L343.7 213.4 L344.4 215.4 L345.2 217.3 L345.9 219.3 L346.7 221.2 L347.6 223.1 L348.5 224.9 L349.5 226.7 L350.6 228.3 L351.9 229.8 L353.2 231.1 L354.7 232.3 L356.2 233.4 L357.9 234.3 L359.7 235.0 L361.5 235.7 L363.4 236.2 L365.4 236.7 L367.4 237.1 L369.4 237.4 L371.4 237.7 L373.5 237.9 L375.6 238.0 L377.7 238.1 L379.8 238.2 L381.8 238.2 L383.9 238.3 L386.0 238.3 L388.1 238.2 L390.2 238.2 L392.2 238.2 L394.3 238.2 L396.3 238.2 L398.3 238.2 L400.3 238.2 L402.2 238.3 L404.1 238.4 L406.0 238.5 L407.8 238.7 L409.6 238.9 L411.4 239.2 L411.7 239.3" stroke="#ff0000"/>
<path d="M49.0 55.0 L50.9 55.4 L52.8 55.7 L54.8 56.1 L56.7 56.4 L58.6 56.8 L60.6 57.1 L62.5 57.5 L64.5 57.8 L66.4 58.2 L68.4 58.5 L70.3 58.9 L72.3 59.3 L74.2 59.6 L76.2 60.0 L78.1 60.3 L80.1 60.7 L82.0 61.1 L84.0 61.5 L85.9 61.8 L87.9 62.2 L89.8 62.6 L91.8 63.0 L93.8 63.3 L95.7 63.7 L97.7 64.1 L99.6 64.5 L101.6 64.9 L103.6 65.3 L105.5 65.7 L107.5 66.1 L109.4 66.5 L111.4 66.9 L113.4 67.3 L115.3 67.7 L117.3 68.1 L119.3 68.6 L121.2 69.0 L123.2 69.4 L125.1 69.9 L127.1 70.3 L129.1 70.7 L131.0 71.2 L133.0 71.6 L134.9 72.1 L136.9 72.5 L138.8 73.0 L140.8 73.5 L142.8 73.9 L144.7 74.4 L146.7 74.9 L148.6 75.4 L150.6 75.9 L152.5 76.4 L154.5 76.9 L156.4 77.4 L158.3 77.9 L160.3 78.4 L162.2 78.9 L164.2 79.5 L166.1 80.0 L168.0 80.5 L170.0 81.1 L171.9 81.6 L173.8 82.2 L175.7 82.8 L177.7 83.3 L179.6 83.9 L181.5 84.5 L183.4 85.1 L185.3 85.7 L187.2 86.3 L189.2 86.9 L191.1 87.5 L193.0 88.1 L194.9 88.8 L196.8 89.4 L198.7 90.1 L200.5 90.7 L202.4 91.4 L204.3 92.0 L206.2 92.7 L208.1 93.4 L210.0 94.1 L211.8 94.8 L213.7 95.5 L215.6 96.2 L217.4 97.0 L219.3 97.7 L221.1 98.4 L223.0 99.2 L224.8 99.9 L226.7 100.7 L228.5 101.5 L230.3 102.3 L232.2 103.1 L234.0 103.9 L235.8 104.7 L237.6 105.5 L239.4 106.3 L241.2 107.2 L243.0 108.0 L244.8 108.9 L246.6 109.7 L248.4 110.6 L250.2 111.5 L252.0 112.4 L253.7 113.3 L255.5 114.2 L257.3 115.2 L259.0 116.1 L260.8 117.0 L262.5 118.0 L264.3 119.0 L266.0 119.9 L267.7 120.9 L269.4 121.9 L271.2 123.0 L272.9 124.0 L274.6 125.0 L276.3 126.1 L278.0 127.1 L279.6 128.2 L281.3 129.3 L283.0 130.4 L284.7 131.5 L286.3 132.6 L288.0 133.7 L289.6 134.8 L291.3 136.0 L292.9 137.1 L294.5 138.3 L296.2 139.5 L297.8 140.7 L299.4 141.9 L301.0 143.1 L302.6 144.4 L304.2 145.6 L305.7 146.9 L307.3 148.2 L308.8 149.5 L310.4 150.8 L311.9 152.1 L313.4 153.4 L314.9 154.8 L316.3 156.2 L317.8 157.6 L319.2 159.0 L320.6 160.4 L322.0 161.8 L323.3 163.3 L324.6 164.8 L325.9 166.3 L327.2 167.8 L328.5 169.3 L329.7 170.9 L330.9 172.5 L332.0 174.1 L333.2 175.7 L334.3 177.3 L335.3 179.0 L336.3 180.7 L337.3 182.4 L338.3 184.2 L339.2 185.9 L340.1 187.7 L340.9 189.5 L341.7 191.3 L342.4 193.2 L343.1 195.1 L343.8 197.0 L344.4 198.9 L345.0 200.9 L345.5 202.9 L346.0 204.9 L346.4 206.9 L346.9 208.9 L347.4 211.0 L347.8 213.0 L348.3 215.0 L348.9 216.9 L349.5 218.9 L350.2 220.8 L350.9 222.7 L351.7 224.5 L352.7 226.2 L353.7 227.9 L354.9 229.5 L356.2 231.0 L357.6 232.2 L359.2 233.3 L360.9 234.2 L362.7 234.9 L364.5 235.5 L366.5 236.0 L368.5 236.4 L370.5 236.7 L372.5 237.0 L374.6 237.2 L376.6 237.4 L378.7 237.6 L380.7 237.8 L382.8 237.9 L384.8 238.0 L386.9 238.1 L388.9 238.2 L391.0 238.3 L393.0 238.3 L395.0 238.4 L397.1 238.4 L399.0 238.5 L401.0 238.5 L403.0 238.6 L404.9 238.7 L406.8 238.7 L408.7 238.8 L410.5 239.0 L411.8 239.1" stroke="#008000"/>
<path d="M48.9 40.8 L50.9 41.2 L52.8 41.6 L54.7 42.0 L56.7 42.4 L58.6 42.7 L60.5 43.1 L62.5 43.5 L64.4 43.9 L66.4 44.3 L68.3 44.7 L70.2 45.1 L72.2 45.5 L74.1 45.9 L76.1 46.3 L78.0 46.7 L80.0 47.1 L81.9 47.5 L83.9 47.9 L85.8 48.3 L87.8 48.7 L89.7 49.1 L91.7 49.5 L93.6 50.0 L95.6 50.4 L97.5 50.8 L99.5 51.2 L101.5 51.7 L103.4 52.1 L105.4 52.5 L107.3 52.9 L109.3 53.4 L111.2 53.8 L113.2 54.3 L115.1 54.7 L117.1 55.2 L119.0 55.6 L121.0 56.1 L122.9 56.6 L124.9 57.0 L126.9 57.5 L128.8 58.0 L130.8 58.4 L132.7 58.9 L134.6 59.4 L136.6 59.9 L138.5 60.4 L140.5 60.9 L142.4 61.4 L144.4 61.9 L146.3 62.4 L148.3 62.9 L150.2 63.5 L152.1 64.0 L154.1 64.5 L156.0 65.1 L157.9 65.6 L159.9 66.1 L161.8 66.7 L163.7 67.3 L165.7 67.8 L167.6 68.4 L169.5 69.0 L171.4 69.6 L173.3 70.1 L175.3 70.7 L177.2 71.3 L179.1 71.9 L181.0 72.5 L182.9 73.2 L184.8 73.8 L186.7 74.4 L188.6 75.1 L190.5 75.7 L192.4 76.4 L194.3 77.0 L196.2 77.7 L198.0 78.3 L199.9 79.0 L201.8 79.7 L203.7 80.4 L205.6 81.1 L207.4 81.8 L209.3 82.5 L211.1 83.2 L213.0 84.0 L214.9 84.7 L216.7 85.5 L218.6 86.2 L220.4 87.0 L222.2 87.7 L224.1 88.5 L225.9 89.3 L227.7 90.1 L229.6 90.9 L231.4 91.7 L233.2 92.5 L235.0 93.4 L236.8 94.2 L238.6 95.0 L240.4 95.9 L242.2 96.8 L244.0 97.6 L245.8 98.5 L247.6 99.4 L249.4 100.3 L251.1 101.2 L252.9 102.1 L254.7 103.1 L256.4 104.0 L258.2 104.9 L259.9 105.9 L261.7 106.9 L263.4 107.9 L265.1 108.8 L266.8 109.8 L268.6 110.8 L270.3 111.9 L272.0 112.9 L273.7 113.9 L275.4 115.0 L277.1 116.0 L278.8 117.1 L280.5 118.2 L282.1 119.3 L283.8 120.4 L285.5 121.5 L287.1 122.6 L288.8 123.8 L290.4 124.9 L292.1 126.1 L293.7 127.3 L295.3 128.5 L296.9 129.6 L298.5 130.9 L300.1 132.1 L301.7 133.3 L303.3 134.6 L304.9 135.8 L306.5 137.1 L308.0 138.4 L309.6 139.7 L311.1 141.0 L312.6 142.3 L314.1 143.6 L315.6 145.0 L317.1 146.4 L318.5 147.7 L320.0 149.2 L321.4 150.6 L322.8 152.0 L324.2 153.5 L325.5 154.9 L326.8 156.4 L328.1 157.9 L329.4 159.4 L330.6 161.0 L331.9 162.5 L333.0 164.1 L334.2 165.7 L335.3 167.3 L336.4 168.9 L337.5 170.6 L338.5 172.2 L339.5 173.9 L340.5 175.6 L341.4 177.4 L342.3 179.1 L343.2 180.9 L344.0 182.7 L344.8 184.5 L345.5 186.4 L346.2 188.2 L346.9 190.1 L347.5 192.0 L348.0 194.0 L348.5 195.9 L349.0 197.9 L349.4 199.9 L349.8 201.9 L350.2 204.0 L350.5 206.0 L350.8 208.1 L351.1 210.2 L351.4 212.2 L351.7 214.3 L352.1 216.3 L352.6 218.3 L353.1 220.2 L353.7 222.2 L354.4 224.0 L355.2 225.8 L356.1 227.6 L357.2 229.2 L358.4 230.8 L359.8 232.1 L361.3 233.3 L363.0 234.1 L364.8 234.8 L366.7 235.3 L368.6 235.7 L370.6 236.0 L372.7 236.3 L374.7 236.6 L376.7 236.8 L378.8 237.0 L380.9 237.2 L382.9 237.4 L385.0 237.6 L387.0 237.7 L389.1 237.9 L391.2 238.0 L393.2 238.1 L395.2 238.2 L397.3 238.3 L399.3 238.4 L401.2 238.4 L403.2 238.5 L405.1 238.6 L407.0 238.7 L408.9 238.8 L410.7 238.9 L411.8 238.9" stroke="#000000"/>
<path d="M48.9 27.0 L50.8 27.4 L52.8 27.8 L54.7 28.2 L56.6 28.6 L58.6 29.0 L60.5 29.4 L62.4 29.8 L64.4 30.2 L66.3 30.7 L68.2 31.1 L70.2 31.5 L72.1 31.9 L74.1 32.3 L76.0 32.7 L77.9 33.2 L79.9 33.6 L81.8 34.0 L83.8 34.5 L85.7 34.9 L87.7 35.3 L89.6 35.8 L91.6 36.2 L93.5 36.6 L95.5 37.1 L97.4 37.5 L99.4 38.0 L101.3 38.4 L103.3 38.9 L105.2 39.4 L107.2 39.8 L109.1 40.3 L111.0 40.8 L113.0 41.2 L114.9 41.7 L116.9 42.2 L118.8 42.7 L120.8 43.2 L122.7 43.7 L124.7 44.1 L126.6 44.6 L128.6 45.1 L130.5 45.7 L132.4 46.2 L134.4 46.7 L136.3 47.2 L138.2 47.7 L140.2 48.3 L142.1 48.8 L144.1 49.3 L146.0 49.9 L147.9 50.4 L149.8 51.0 L151.8 51.5 L153.7 52.1 L155.6 52.7 L157.6 53.2 L159.5 53.8 L161.4 54.4 L163.3 55.0 L165.2 55.6 L167.1 56.2 L169.1 56.8 L171.0 57.4 L172.9 58.0 L174.8 58.6 L176.7 59.2 L178.6 59.9 L180.5 60.5 L182.4 61.2 L184.3 61.8 L186.2 62.5 L188.1 63.1 L189.9 63.8 L191.8 64.5 L193.7 65.2 L195.6 65.9 L197.5 66.6 L199.3 67.3 L201.2 68.0 L203.1 68.7 L204.9 69.4 L206.8 70.2 L208.6 70.9 L210.5 71.6 L212.3 72.4 L214.2 73.2 L216.0 73.9 L217.9 74.7 L219.7 75.5 L221.5 76.3 L223.4 77.1 L225.2 77.9 L227.0 78.7 L228.8 79.5 L230.6 80.4 L232.4 81.2 L234.2 82.1 L236.0 82.9 L237.8 83.8 L239.6 84.7 L241.4 85.5 L243.2 86.4 L245.0 87.3 L246.8 88.2 L248.5 89.2 L250.3 90.1 L252.1 91.0 L253.8 92.0 L255.6 92.9 L257.3 93.9 L259.0 94.9 L260.8 95.8 L262.5 96.8 L264.2 97.8 L266.0 98.8 L267.7 99.9 L269.4 100.9 L271.1 101.9 L272.8 103.0 L274.5 104.0 L276.2 105.1 L277.8 106.2 L279.5 107.3 L281.2 108.4 L282.9 109.5 L284.5 110.6 L286.2 111.8 L287.8 112.9 L289.5 114.1 L291.1 115.2 L292.7 116.4 L294.3 117.6 L296.0 118.8 L297.6 120.0 L299.2 121.2 L300.8 122.5 L302.4 123.7 L304.0 125.0 L305.5 126.2 L307.1 127.5 L308.6 128.8 L310.2 130.1 L311.7 131.4 L313.2 132.7 L314.7 134.1 L316.2 135.4 L317.7 136.8 L319.1 138.2 L320.6 139.6 L322.0 141.0 L323.4 142.4 L324.8 143.9 L326.1 145.3 L327.5 146.8 L328.8 148.3 L330.1 149.8 L331.3 151.3 L332.6 152.9 L333.8 154.4 L335.0 156.0 L336.2 157.6 L337.3 159.2 L338.4 160.8 L339.5 162.4 L340.5 164.1 L341.6 165.8 L342.5 167.5 L343.5 169.2 L344.4 170.9 L345.3 172.6 L346.2 174.4 L347.0 176.2 L347.8 178.0 L348.5 179.8 L349.2 181.7 L349.9 183.5 L350.5 185.4 L351.1 187.3 L351.6 189.2 L352.1 191.2 L352.6 193.1 L353.0 195.1 L353.4 197.1 L353.7 199.2 L354.0 201.2 L354.2 203.3 L354.4 205.4 L354.6 207.5 L354.8 209.6 L355.0 211.6 L355.2 213.7 L355.5 215.7 L355.8 217.8 L356.2 219.8 L356.6 221.7 L357.1 223.6 L357.8 225.4 L358.6 227.2 L359.6 228.9 L360.8 230.5 L362.1 231.9 L363.6 233.0 L365.3 233.9 L367.1 234.5 L369.0 235.0 L371.0 235.5 L373.0 235.8 L375.0 236.2 L377.0 236.5 L379.1 236.8 L381.1 237.0 L383.2 237.2 L385.3 237.4 L387.4 237.6 L389.4 237.7 L391.5 237.8 L393.6 238.0 L395.6 238.1 L397.7 238.2 L399.7 238.2 L401.7 238.3 L403.6 238.4 L405.5 238.5 L407.4 238.6 L409.3 238.7 L411.1 238.8 L411.8 238.8" stroke="#ff0000"/>
<path d="M48.7 12.7 L50.6 13.2 L52.6 13.6 L54.5 14.1 L56.4 14.5 L58.4 15.0 L60.3 15.4 L62.3 15.9 L64.2 16.4 L66.1 16.8 L68.1 17.3 L70.0 17.7 L71.9 18.2 L73.9 18.7 L75.8 19.1 L77.8 19.6 L79.7 20.1 L81.6 20.6 L83.6 21.0 L85.5 21.5 L87.5 22.0 L89.4 22.5 L91.4 22.9 L93.3 23.4 L95.2 23.9 L97.2 24.4 L99.1 24.9 L101.1 25.4 L103.0 25.9 L104.9 26.4 L106.9 26.9 L108.8 27.4 L110.8 27.9 L112.7 28.4 L114.6 28.9 L116.6 29.4 L118.5 30.0 L120.4 30.5 L122.4 31.0 L124.3 31.5 L126.2 32.1 L128.2 32.6 L130.1 33.1 L132.0 33.7 L134.0 34.2 L135.9 34.8 L137.8 35.3 L139.7 35.9 L141.7 36.5 L143.6 37.0 L145.5 37.6 L147.4 38.2 L149.3 38.8 L151.3 39.3 L153.2 39.9 L155.1 40.5 L157.0 41.1 L158.9 41.7 L160.8 42.3 L162.7 43.0 L164.6 43.6 L166.5 44.2 L168.4 44.8 L170.3 45.5 L172.2 46.1 L174.1 46.7 L176.0 47.4 L177.9 48.1 L179.8 48.7 L181.7 49.4 L183.5 50.1 L185.4 50.7 L187.3 51.4 L189.2 52.1 L191.0 52.8 L192.9 53.5 L194.8 54.2 L196.6 54.9 L198.5 55.7 L200.4 56.4 L202.2 57.1 L204.1 57.9 L205.9 58.6 L207.8 59.4 L209.6 60.2 L211.4 60.9 L213.3 61.7 L215.1 62.5 L216.9 63.3 L218.8 64.1 L220.6 64.9 L222.4 65.7 L224.2 66.5 L226.0 67.4 L227.8 68.2 L229.6 69.0 L231.4 69.9 L233.2 70.8 L235.0 71.6 L236.8 72.5 L238.6 73.4 L240.4 74.3 L242.2 75.2 L243.9 76.1 L245.7 77.0 L247.5 78.0 L249.2 78.9 L251.0 79.8 L252.7 80.8 L254.5 81.8 L256.2 82.7 L258.0 83.7 L259.7 84.7 L261.4 85.7 L263.2 86.7 L264.9 87.7 L266.6 88.8 L268.3 89.8 L270.0 90.9 L271.7 91.9 L273.4 93.0 L275.1 94.1 L276.8 95.1 L278.5 96.2 L280.1 97.3 L281.8 98.5 L283.5 99.6 L285.1 100.7 L286.8 101.9 L288.4 103.0 L290.1 104.2 L291.7 105.4 L293.4 106.6 L295.0 107.8 L296.6 109.0 L298.2 110.2 L299.8 111.5 L301.4 112.7 L303.0 114.0 L304.6 115.2 L306.2 116.5 L307.8 117.8 L309.3 119.1 L310.9 120.4 L312.4 121.8 L313.9 123.1 L315.4 124.4 L316.9 125.8 L318.4 127.2 L319.9 128.6 L321.4 130.0 L322.8 131.4 L324.2 132.8 L325.6 134.3 L327.0 135.7 L328.3 137.2 L329.7 138.7 L331.0 140.2 L332.3 141.7 L333.6 143.2 L334.8 144.8 L336.1 146.3 L337.3 147.9 L338.4 149.5 L339.6 151.1 L340.7 152.7 L341.8 154.4 L342.9 156.0 L343.9 157.7 L344.9 159.4 L345.9 161.1 L346.8 162.8 L347.7 164.5 L348.6 166.2 L349.4 168.0 L350.3 169.8 L351.0 171.6 L351.8 173.4 L352.5 175.2 L353.1 177.1 L353.7 178.9 L354.3 180.8 L354.9 182.7 L355.4 184.6 L355.8 186.6 L356.3 188.5 L356.6 190.5 L357.0 192.5 L357.3 194.5 L357.5 196.5 L357.7 198.6 L357.8 200.6 L357.9 202.7 L358.0 204.8 L358.1 206.9 L358.1 209.0 L358.2 211.1 L358.3 213.2 L358.4 215.2 L358.6 217.3 L358.8 219.2 L359.1 221.2 L359.5 223.1 L360.1 224.9 L360.8 226.7 L361.6 228.4 L362.8 230.0 L364.1 231.4 L365.6 232.6 L367.3 233.4 L369.1 234.0 L371.0 234.5 L372.9 234.9 L374.9 235.4 L376.9 235.7 L378.9 236.0 L381.0 236.3 L383.0 236.6 L385.1 236.8 L387.2 237.0 L389.3 237.2 L391.4 237.4 L393.5 237.6 L395.5 237.7 L397.6 237.8 L399.6 237.9 L401.6 238.0 L403.6 238.1 L405.5 238.2 L407.4 238.4 L409.2 238.5 L411.0 238.6 L411.8 238.6" stroke="#008000"/>
<path d="M48.8 -2.4 L50.7 -1.8 L52.6 -1.2 L54.5 -0.7 L56.4 -0.1 L58.3 0.4 L60.2 1.0 L62.1 1.5 L64.0 2.1 L65.9 2.6 L67.8 3.2 L69.7 3.7 L71.6 4.3 L73.5 4.8 L75.4 5.4 L77.3 5.9 L79.2 6.4 L81.1 7.0 L83.1 7.5 L85.0 8.1 L86.9 8.6 L88.8 9.2 L90.7 9.7 L92.6 10.2 L94.6 10.8 L96.5 11.3 L98.4 11.9 L100.3 12.4 L102.3 13.0 L104.2 13.5 L106.1 14.1 L108.0 14.6 L110.0 15.2 L111.9 15.7 L113.8 16.3 L115.8 16.8 L117.7 17.4 L119.6 18.0 L121.5 18.5 L123.5 19.1 L125.4 19.7 L127.3 20.2 L129.2 20.8 L131.2 21.4 L133.1 22.0 L135.0 22.5 L136.9 23.1 L138.9 23.7 L140.8 24.3 L142.7 24.9 L144.6 25.5 L146.6 26.1 L148.5 26.7 L150.4 27.3 L152.3 27.9 L154.2 28.5 L156.1 29.1 L158.0 29.7 L160.0 30.4 L161.9 31.0 L163.8 31.6 L165.7 32.3 L167.6 32.9 L169.5 33.5 L171.4 34.2 L173.3 34.9 L175.2 35.5 L177.1 36.2 L178.9 36.8 L180.8 37.5 L182.7 38.2 L184.6 38.9 L186.5 39.6 L188.4 40.3 L190.2 41.0 L192.1 41.7 L194.0 42.4 L195.8 43.1 L197.7 43.9 L199.6 44.6 L201.4 45.3 L203.3 46.1 L205.1 46.8 L207.0 47.6 L208.8 48.4 L210.6 49.1 L212.5 49.9 L214.3 50.7 L216.1 51.5 L218.0 52.3 L219.8 53.1 L221.6 53.9 L223.4 54.8 L225.2 55.6 L227.0 56.4 L228.8 57.3 L230.6 58.2 L232.4 59.0 L234.2 59.9 L236.0 60.8 L237.7 61.7 L239.5 62.6 L241.3 63.5 L243.0 64.4 L244.8 65.3 L246.5 66.3 L248.3 67.2 L250.0 68.2 L251.8 69.1 L253.5 70.1 L255.2 71.1 L256.9 72.1 L258.7 73.1 L260.4 74.1 L262.1 75.1 L263.8 76.1 L265.5 77.2 L267.1 78.2 L268.8 79.3 L270.5 80.4 L272.2 81.5 L273.8 82.6 L275.5 83.7 L277.1 84.8 L278.8 85.9 L280.4 87.1 L282.0 88.2 L283.7 89.4 L285.3 90.5 L286.9 91.7 L288.5 92.9 L290.1 94.1 L291.7 95.4 L293.2 96.6 L294.8 97.8 L296.4 99.1 L297.9 100.4 L299.5 101.6 L301.0 102.9 L302.6 104.3 L304.1 105.6 L305.6 106.9 L307.1 108.2 L308.6 109.6 L310.1 111.0 L311.6 112.4 L313.1 113.7 L314.6 115.2 L316.0 116.6 L317.5 118.0 L318.9 119.4 L320.3 120.9 L321.7 122.4 L323.1 123.8 L324.5 125.3 L325.9 126.8 L327.3 128.3 L328.6 129.9 L330.0 131.4 L331.3 132.9 L332.6 134.5 L333.9 136.1 L335.2 137.7 L336.5 139.2 L337.7 140.8 L339.0 142.5 L340.2 144.1 L341.5 145.7 L342.7 147.4 L343.9 149.0 L345.0 150.7 L346.2 152.4 L347.3 154.1 L348.4 155.8 L349.5 157.5 L350.5 159.2 L351.6 161.0 L352.5 162.7 L353.5 164.5 L354.3 166.3 L355.2 168.0 L356.0 169.8 L356.7 171.6 L357.4 173.4 L358.0 175.3 L358.6 177.1 L359.1 178.9 L359.5 180.8 L359.9 182.7 L360.2 184.5 L360.4 186.4 L360.6 188.3 L360.7 190.2 L360.8 192.2 L360.9 194.1 L360.9 196.0 L360.9 198.0 L360.9 199.9 L360.8 201.9 L360.8 203.9 L360.8 205.9 L360.8 207.9 L360.8 209.9 L360.9 211.9 L361.0 213.9 L361.1 216.0 L361.3 218.0 L361.5 220.1 L361.8 222.1 L362.2 224.2 L362.7 226.2 L363.4 228.1 L364.4 229.8 L365.6 231.1 L367.2 232.1 L369.0 232.9 L370.9 233.5 L372.8 234.1 L374.7 234.6 L376.7 235.0 L378.7 235.4 L380.7 235.7 L382.8 236.0 L384.8 236.3 L386.9 236.5 L388.9 236.7 L391.0 236.9 L393.1 237.1 L395.1 237.2 L397.1 237.4 L399.2 237.5 L401.2 237.6 L403.1 237.7 L405.1 237.9 L407.0 238.0 L408.9 238.2 L410.7 238.4 L411.9 238.5" stroke="#000000"/>
<path d="M48.6 -17.9 L50.5 -17.2 L52.3 -16.6 L54.2 -15.9 L56.1 -15.3 L57.9 -14.6 L59.8 -14.0 L61.7 -13.4 L63.5 -12.7 L65.4 -12.1 L67.3 -11.5 L69.2 -10.9 L71.1 -10.3 L72.9 -9.6 L74.8 -9.0 L76.7 -8.4 L78.6 -7.8 L80.5 -7.2 L82.4 -6.6 L84.3 -6.0 L86.2 -5.3 L88.1 -4.7 L90.0 -4.1 L91.9 -3.5 L93.8 -2.9 L95.7 -2.3 L97.6 -1.7 L99.5 -1.1 L101.4 -0.5 L103.3 0.1 L105.2 0.7 L107.1 1.3 L109.0 1.9 L110.9 2.5 L112.8 3.1 L114.8 3.7 L116.7 4.4 L118.6 5.0 L120.5 5.6 L122.4 6.2 L124.3 6.8 L126.2 7.4 L128.1 8.0 L130.0 8.6 L132.0 9.3 L133.9 9.9 L135.8 10.5 L137.7 11.1 L139.6 11.8 L141.5 12.4 L143.4 13.0 L145.3 13.6 L147.2 14.3 L149.1 14.9 L151.0 15.6 L152.9 16.2 L154.8 16.9 L156.7 17.5 L158.6 18.2 L160.5 18.8 L162.4 19.5 L164.3 20.1 L166.2 20.8 L168.1 21.5 L170.0 22.2 L171.9 22.8 L173.8 23.5 L175.7 24.2 L177.5 24.9 L179.4 25.6 L181.3 26.3 L183.2 27.0 L185.0 27.7 L186.9 28.4 L188.8 29.1 L190.7 29.9 L192.5 30.6 L194.4 31.3 L196.2 32.1 L198.1 32.8 L199.9 33.6 L201.8 34.3 L203.6 35.1 L205.5 35.9 L207.3 36.7 L209.2 37.4 L211.0 38.2 L212.8 39.0 L214.7 39.8 L216.5 40.6 L218.3 41.5 L220.1 42.3 L221.9 43.1 L223.7 44.0 L225.5 44.8 L227.3 45.7 L229.1 46.5 L230.9 47.4 L232.7 48.3 L234.5 49.1 L236.3 50.0 L238.1 50.9 L239.8 51.8 L241.6 52.8 L243.4 53.7 L245.1 54.6 L246.9 55.6 L248.6 56.5 L250.4 57.5 L252.1 58.4 L253.8 59.4 L255.6 60.4 L257.3 61.4 L259.0 62.4 L260.7 63.4 L262.4 64.5 L264.1 65.5 L265.8 66.5 L267.5 67.6 L269.2 68.7 L270.9 69.7 L272.5 70.8 L274.2 71.9 L275.9 73.0 L277.5 74.1 L279.2 75.3 L280.8 76.4 L282.4 77.6 L284.1 78.7 L285.7 79.9 L287.3 81.1 L288.9 82.3 L290.5 83.5 L292.1 84.7 L293.7 85.9 L295.3 87.2 L296.9 88.4 L298.4 89.7 L300.0 91.0 L301.5 92.3 L303.1 93.6 L304.6 94.9 L306.1 96.2 L307.7 97.6 L309.2 98.9 L310.7 100.3 L312.2 101.7 L313.6 103.1 L315.1 104.5 L316.5 105.9 L318.0 107.3 L319.4 108.7 L320.8 110.2 L322.2 111.6 L323.6 113.1 L325.0 114.6 L326.3 116.1 L327.7 117.6 L329.0 119.1 L330.3 120.6 L331.6 122.2 L332.9 123.7 L334.1 125.3 L335.4 126.9 L336.6 128.5 L337.8 130.0 L339.0 131.7 L340.1 133.3 L341.3 134.9 L342.4 136.6 L343.5 138.2 L344.6 139.9 L345.6 141.5 L346.7 143.2 L347.7 144.9 L348.6 146.6 L349.6 148.4 L350.5 150.1 L351.5 151.8 L352.3 153.6 L353.2 155.3 L354.0 157.1 L354.8 158.9 L355.6 160.7 L356.4 162.5 L357.1 164.3 L357.8 166.1 L358.5 168.0 L359.1 169.8 L359.7 171.7 L360.3 173.6 L360.8 175.4 L361.4 177.3 L361.9 179.2 L362.3 181.1 L362.7 183.0 L363.1 185.0 L363.5 186.9 L363.8 188.9 L364.1 190.8 L364.3 192.8 L364.6 194.8 L364.7 196.8 L364.9 198.8 L365.0 200.8 L365.1 202.8 L365.1 204.8 L365.1 206.9 L365.1 208.9 L365.0 211.0 L364.9 213.1 L364.7 215.1 L364.5 217.2 L364.4 219.3 L364.3 221.4 L364.3 223.3 L364.6 225.2 L365.3 227.0 L366.3 228.7 L367.6 230.2 L369.1 231.4 L370.8 232.5 L372.5 233.4 L374.4 234.1 L376.3 234.6 L378.3 235.0 L380.3 235.3 L382.4 235.5 L384.5 235.6 L386.7 235.7 L388.8 235.9 L391.0 236.0 L393.2 236.2 L395.3 236.4 L397.4 236.8 L399.5 237.3 L401.6 237.9 L403.5 238.4 L405.5 238.9 L407.3 239.2 L409.0 239.2 L410.7 238.9 L411.7 238.3" stroke="#ff0000"/>
<path d="M311.50 48.40 C311.97 55.93 312.30 62.45 312.90 71.00 C313.69 82.24 315.02 97.26 316.00 110.00 C316.95 122.24 317.45 135.93 318.70 146.00 C319.61 153.36 320.68 158.87 322.00 165.00 C323.26 170.85 324.64 176.96 326.40 182.00 C327.89 186.25 329.86 189.98 331.50 193.40 C332.87 196.27 334.05 198.86 335.50 201.20 C336.80 203.31 338.09 205.06 339.70 206.90 C341.45 208.90 343.73 210.80 345.70 212.70 C347.60 214.53 349.25 216.55 351.30 218.10 C353.35 219.65 355.65 220.76 358.00 222.00 C360.48 223.30 362.77 224.49 365.80 225.70 C369.79 227.30 375.05 228.96 380.00 230.40 C385.29 231.94 391.99 233.50 396.60 234.60 C399.87 235.38 402.20 235.87 405.00 236.50" style="stroke:#0000ff;stroke-width:2.2;stroke-dasharray:4.8 2.9"/>
<circle cx="303.7" cy="251.4" r="1.6" fill="#0000ff"/><circle cx="307.5" cy="248.8" r="1.6" fill="#0000ff"/><circle cx="311.4" cy="246.2" r="1.6" fill="#0000ff"/><circle cx="315.3" cy="243.6" r="1.6" fill="#0000ff"/><circle cx="319.3" cy="241.2" r="1.6" fill="#0000ff"/><circle cx="323.4" cy="238.9" r="1.6" fill="#0000ff"/><circle cx="327.5" cy="236.7" r="1.6" fill="#0000ff"/><circle cx="331.7" cy="234.4" r="1.6" fill="#0000ff"/><circle cx="335.7" cy="232.4" r="1.6" fill="#0000ff"/><circle cx="339.9" cy="230.5" r="1.6" fill="#0000ff"/><circle cx="344.1" cy="228.6" r="1.6" fill="#0000ff"/><circle cx="347.9" cy="226.9" r="1.6" fill="#0000ff"/><circle cx="351.7" cy="225.4" r="1.6" fill="#0000ff"/><circle cx="355.3" cy="223.8" r="1.6" fill="#0000ff"/><circle cx="358.8" cy="222.3" r="1.6" fill="#0000ff"/><circle cx="363.1" cy="220.7" r="1.6" fill="#0000ff"/><circle cx="367.7" cy="219.4" r="1.6" fill="#0000ff"/><circle cx="372.5" cy="218.3" r="1.6" fill="#0000ff"/><circle cx="377.4" cy="217.3" r="1.6" fill="#0000ff"/><circle cx="382.3" cy="216.2" r="1.6" fill="#0000ff"/><circle cx="387.4" cy="215.4" r="1.6" fill="#0000ff"/><circle cx="392.3" cy="214.7" r="1.6" fill="#0000ff"/><circle cx="397.5" cy="214.2" r="1.6" fill="#0000ff"/>
</g>
<g class="ax">
<rect x="48.50" y="9.00" width="350.50" height="243.00" fill="none" stroke="#000" stroke-width="1.12"/>
<line x1="48.50" y1="252.00" x2="48.50" y2="256.80"/>
<line x1="80.36" y1="252.00" x2="80.36" y2="254.50"/>
<line x1="80.36" y1="9.00" x2="80.36" y2="11.50"/>
<line x1="112.23" y1="252.00" x2="112.23" y2="256.80"/>
<line x1="112.23" y1="9.00" x2="112.23" y2="13.80"/>
<line x1="144.09" y1="252.00" x2="144.09" y2="254.50"/>
<line x1="144.09" y1="9.00" x2="144.09" y2="11.50"/>
<line x1="175.96" y1="252.00" x2="175.96" y2="256.80"/>
<line x1="175.96" y1="9.00" x2="175.96" y2="13.80"/>
<line x1="207.82" y1="252.00" x2="207.82" y2="254.50"/>
<line x1="207.82" y1="9.00" x2="207.82" y2="11.50"/>
<line x1="239.68" y1="252.00" x2="239.68" y2="256.80"/>
<line x1="239.68" y1="9.00" x2="239.68" y2="13.80"/>
<line x1="271.55" y1="252.00" x2="271.55" y2="254.50"/>
<line x1="271.55" y1="9.00" x2="271.55" y2="11.50"/>
<line x1="303.41" y1="252.00" x2="303.41" y2="256.80"/>
<line x1="303.41" y1="9.00" x2="303.41" y2="13.80"/>
<line x1="335.28" y1="252.00" x2="335.28" y2="254.50"/>
<line x1="335.28" y1="9.00" x2="335.28" y2="11.50"/>
<line x1="367.14" y1="252.00" x2="367.14" y2="256.80"/>
<line x1="367.14" y1="9.00" x2="367.14" y2="13.80"/>
<line x1="399.00" y1="252.00" x2="399.00" y2="254.50"/>
<line x1="48.50" y1="252.00" x2="43.70" y2="252.00"/>
<line x1="48.50" y1="231.75" x2="46.00" y2="231.75"/>
<line x1="399.00" y1="231.75" x2="396.50" y2="231.75"/>
<line x1="48.50" y1="211.50" x2="43.70" y2="211.50"/>
<line x1="399.00" y1="211.50" x2="394.20" y2="211.50"/>
<line x1="48.50" y1="191.25" x2="46.00" y2="191.25"/>
<line x1="399.00" y1="191.25" x2="396.50" y2="191.25"/>
<line x1="48.50" y1="171.00" x2="43.70" y2="171.00"/>
<line x1="399.00" y1="171.00" x2="394.20" y2="171.00"/>
<line x1="48.50" y1="150.75" x2="46.00" y2="150.75"/>
<line x1="399.00" y1="150.75" x2="396.50" y2="150.75"/>
<line x1="48.50" y1="130.50" x2="43.70" y2="130.50"/>
<line x1="399.00" y1="130.50" x2="394.20" y2="130.50"/>
<line x1="48.50" y1="110.25" x2="46.00" y2="110.25"/>
<line x1="399.00" y1="110.25" x2="396.50" y2="110.25"/>
<line x1="48.50" y1="90.00" x2="43.70" y2="90.00"/>
<line x1="399.00" y1="90.00" x2="394.20" y2="90.00"/>
<line x1="48.50" y1="69.75" x2="46.00" y2="69.75"/>
<line x1="399.00" y1="69.75" x2="396.50" y2="69.75"/>
<line x1="48.50" y1="49.50" x2="43.70" y2="49.50"/>
<line x1="399.00" y1="49.50" x2="394.20" y2="49.50"/>
<line x1="48.50" y1="29.25" x2="46.00" y2="29.25"/>
<line x1="399.00" y1="29.25" x2="396.50" y2="29.25"/>
<line x1="48.50" y1="9.00" x2="43.70" y2="9.00"/>
</g>
<g class="tk">
<text x="48.50" y="271.4" text-anchor="middle">-8</text>
<text x="112.23" y="271.4" text-anchor="middle">-6</text>
<text x="175.96" y="271.4" text-anchor="middle">-4</text>
<text x="239.68" y="271.4" text-anchor="middle">-2</text>
<text x="303.41" y="271.4" text-anchor="middle">0</text>
<text x="367.14" y="271.4" text-anchor="middle">2</text>
<text x="40.4" y="256.80" text-anchor="end">0.0</text>
<text x="40.4" y="216.30" text-anchor="end">0.4</text>
<text x="40.4" y="175.80" text-anchor="end">0.8</text>
<text x="40.4" y="135.30" text-anchor="end">1.2</text>
<text x="40.4" y="94.80" text-anchor="end">1.6</text>
<text x="40.4" y="54.30" text-anchor="end">2.0</text>
<text x="40.4" y="13.80" text-anchor="end">2.4</text>
</g>
<g class="vl">
<text x="50.3" y="242.3" fill="#000"><tspan class="i">V</tspan> =<tspan dx="1"> 0.0</tspan></text>
<text x="50.3" y="166.3" fill="#ff0000"><tspan class="i">V</tspan> =<tspan dx="1"> 0.4</tspan></text>
<text x="50.3" y="98.3" fill="#008000"><tspan class="i">V</tspan> =<tspan dx="1"> 0.8</tspan></text>
<text x="50.3" y="37.8" fill="#000"><tspan class="i">V</tspan> =<tspan dx="1"> 1.2</tspan></text>
<text x="203.7" y="34.2" fill="#ff0000"><tspan class="i">V</tspan> =<tspan dx="1"> 1.6</tspan></text>
</g>
<text class="big" x="201.5" y="289.7">U</text>
<text class="big" transform="translate(20.1,132.1) rotate(-90)"><tspan font-size="31">k</tspan><tspan font-size="19" dy="6" dx="-1.3">B</tspan><tspan dy="-6" dx="0.5">T</tspan></text>
</svg>
</body></html>
